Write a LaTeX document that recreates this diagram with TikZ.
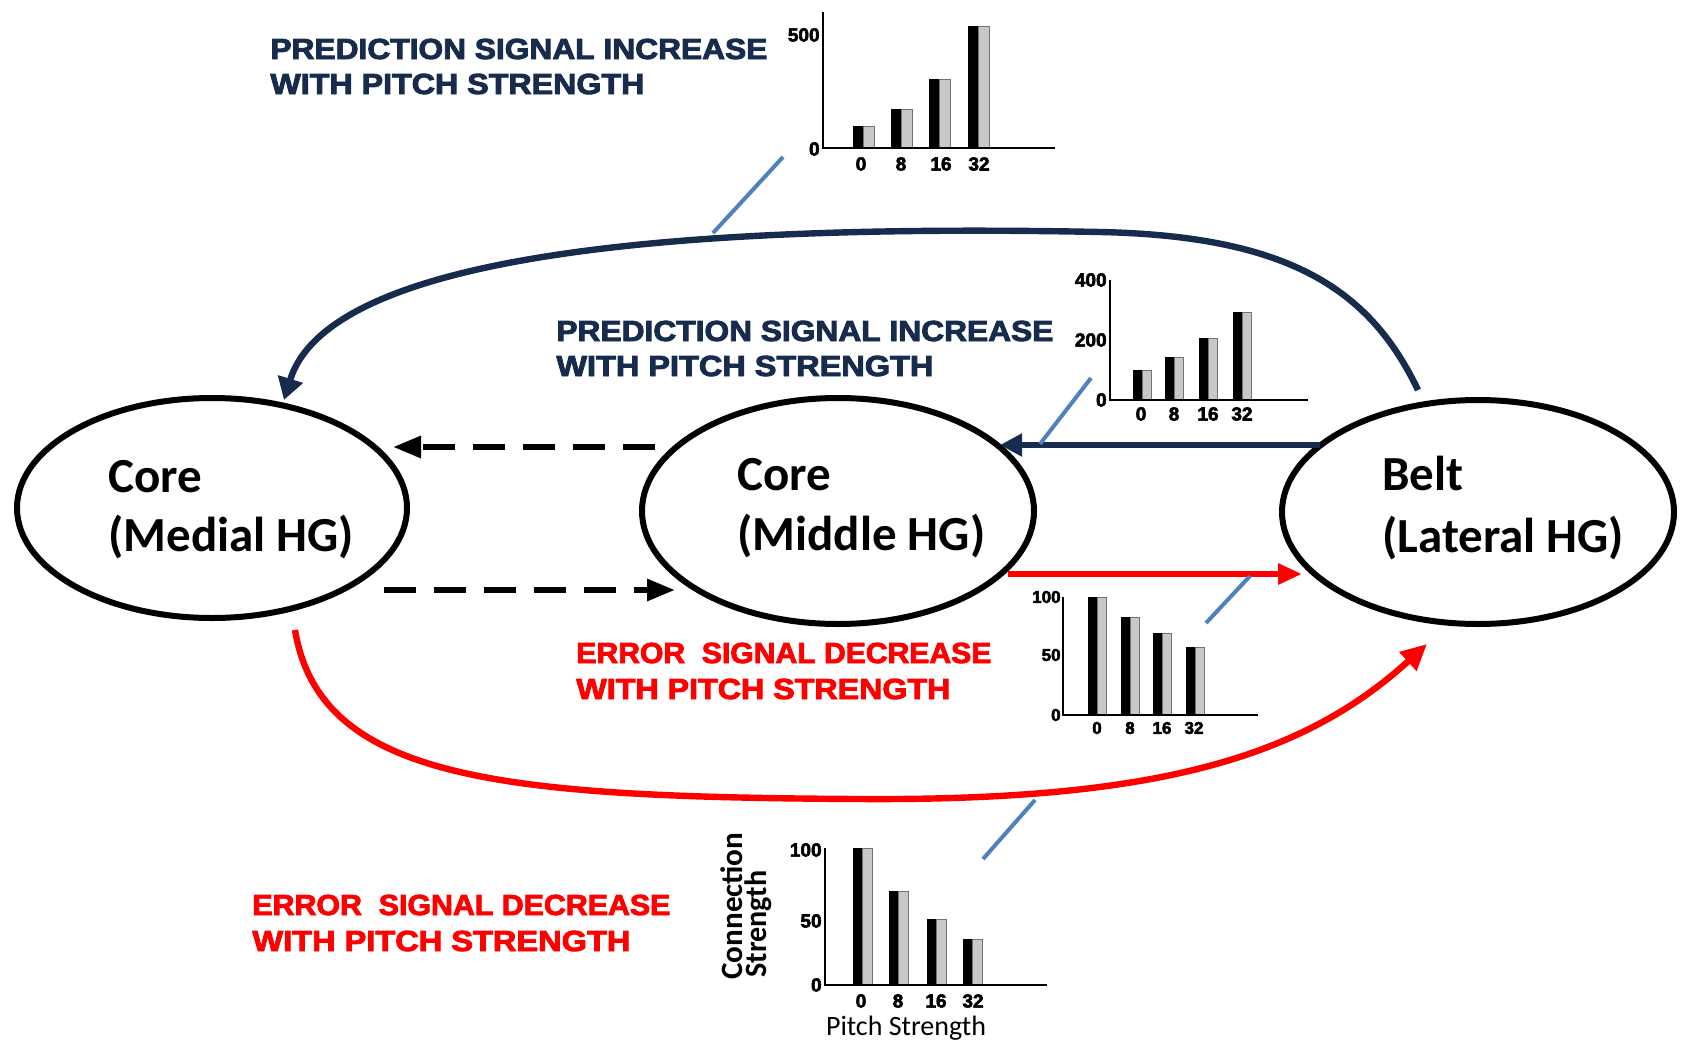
\documentclass[tikz,border=0pt]{standalone}
\usepackage{fontspec}
\setmainfont{Carlito}
\newfontfamily\arialfont{Liberation Sans}[BoldFeatures={FakeBold=3}]
\usetikzlibrary{arrows.meta,shapes.geometric}
\definecolor{navyc}{HTML}{172B4D}
\definecolor{pblue}{HTML}{4F81BD}
\definecolor{sigred}{HTML}{FF0000}
\definecolor{bargray}{HTML}{C8C8C8}
\newcommand\barpair[4]{%
  \fill[black] (#1,#3) rectangle ({#1+#4},#2);
  \filldraw[fill=bargray,draw=black!55,line width=0.5pt] ({#1+#4},#3) rectangle ({#1+2*#4},#2);}
\begin{document}
\begin{tikzpicture}[x=0.5pt,y=-0.5pt,
  ell/.style={ellipse,draw=black,line width=3pt,inner sep=0pt,outer sep=0pt,fill=white},
  etext/.style={anchor=base west,inner sep=0pt,font=\bfseries\fontsize{24.5}{29}\selectfont},
  lab/.style={anchor=base west,inner sep=0pt,font=\arialfont\bfseries\fontsize{14.5}{17}\selectfont},
  navylab/.style={lab,text=navyc},
  redlab/.style={lab,text=sigred},
  tick/.style={inner sep=0pt,font=\arialfont\bfseries\fontsize{9.5}{11}\selectfont},
  ylab/.style={tick,anchor=east},
  axis/.style={line width=1.4pt,draw=black},
  pointer/.style={line width=2pt,draw=pblue},
  navyarc/.style={draw=navyc,line width=3.2pt,-{Triangle[length=11pt,width=12.5pt]}},
  navyline/.style={draw=navyc,line width=2.6pt,-{Triangle[length=11pt,width=11pt]}},
  redarc/.style={draw=sigred,line width=3.2pt,-{Triangle[length=13pt,width=12pt]}},
  redline/.style={draw=sigred,line width=3.2pt,-{Triangle[length=12pt,width=10pt]}},
  dasharrow/.style={draw=black,line width=3pt,dash pattern=on 16pt off 9pt,-{Triangle[length=14pt,width=10.5pt]}}
]
\useasboundingbox (0,0) rectangle (1682,1044);
\fill[white] (0,0) rectangle (1682,1044);

% ---------- ellipses ----------
\node[ell,minimum width=195pt,minimum height=110pt] (medial) at (212,508) {};
\node[ell,minimum width=196pt,minimum height=113pt] (middle) at (838,511) {};
\node[ell,minimum width=196pt,minimum height=112pt] (belt) at (1478,512) {};
\node[etext] (medial1) at (108,492) {Core};
\node[etext] (medial2) at (108,551) {(Medial HG)};
\node[etext] (middle1) at (737,490) {Core};
\node[etext] (middle2) at (737,550) {(Middle HG)};
\node[etext] (belt1) at (1382,490) {Belt};
\node[etext] (belt2) at (1382,552) {(Lateral HG)};

% ---------- connector end points ----------
\coordinate (arcTopS) at (1418,390);
\coordinate (arcTopE) at (284,400);
\coordinate (arcBotS) at (295,630);
\coordinate (arcBotE) at (1427,644);
\coordinate (navyS) at (1320,445);
\coordinate (navyE) at (1000,445);
\coordinate (redS) at (1008,574);
\coordinate (redE) at (1302,574);
\coordinate (dashUS) at (655,447);
\coordinate (dashUE) at (393,447);
\coordinate (dashLS) at (384,590);
\coordinate (dashLE) at (675,590);

% ---------- connectors ----------
\draw[navyarc] (arcTopS) .. controls (1370,290) and (1290,236) .. (1100,232)
  .. controls (700,224) and (330,250) .. (arcTopE);
\draw[redarc] (arcBotS) .. controls (320,780) and (500,797) .. (858,799)
  .. controls (1150,801) and (1300,760) .. (arcBotE);
\draw[navyline] (navyS) -- (navyE);
\draw[redline] (redS) -- (redE);
\draw[dasharrow] (dashUS) -- (dashUE);
\draw[dasharrow] (dashLS) -- (dashLE);

% ---------- pointers ----------
\coordinate (p1a) at (713,233); \coordinate (p1b) at (783,157);
\coordinate (p2a) at (1040,444); \coordinate (p2b) at (1091,378);
\coordinate (p3a) at (1206,623); \coordinate (p3b) at (1250,576);
\coordinate (p4a) at (983,859); \coordinate (p4b) at (1035,800);
\draw[pointer] (p1a) -- (p1b);
\draw[pointer] (p2a) -- (p2b);
\draw[pointer] (p3a) -- (p3b);
\draw[pointer] (p4a) -- (p4b);

% ---------- labels ----------
\node[navylab] (labA1) at (270,59) {\resizebox{248.5pt}{\height}{PREDICTION SIGNAL INCREASE}};
\node[navylab] (labA2) at (270,94) {\resizebox{187pt}{\height}{WITH PITCH STRENGTH}};
\node[navylab] (labB1) at (556,341) {\resizebox{248.5pt}{\height}{PREDICTION SIGNAL INCREASE}};
\node[navylab] (labB2) at (556,376) {\resizebox{188.5pt}{\height}{WITH PITCH STRENGTH}};
\node[redlab] (labC1) at (576,663) {\resizebox{207.5pt}{\height}{ERROR\ \ SIGNAL DECREASE}};
\node[redlab] (labC2) at (576,699) {\resizebox{187pt}{\height}{WITH PITCH STRENGTH}};
\node[redlab] (labD1) at (252,915) {\resizebox{209pt}{\height}{ERROR\ \ SIGNAL DECREASE}};
\node[redlab] (labD2) at (252,951) {\resizebox{189pt}{\height}{WITH PITCH STRENGTH}};

% ---------- chart 1 (top) ----------
\barpair{853}{126}{148}{10.5}
\barpair{891}{109}{148}{10.5}
\barpair{929}{79}{148}{10.5}
\barpair{968}{26}{148}{10.5}
\draw[axis] (823,12) -- (823,148) -- (1055,148);
\node[ylab] (c1y500) at (820,35) {500};
\node[ylab] (c1y0) at (820,149) {0};
\node[tick] (c1x0) at (861,164) {0};
\node[tick] (c1x8) at (901,164) {8};
\node[tick] (c1x16) at (941,164) {16};
\node[tick] (c1x32) at (979,164) {32};

% ---------- chart 2 ----------
\barpair{1133}{370}{400}{9}
\barpair{1165}{357}{400}{9}
\barpair{1199}{338}{400}{9}
\barpair{1233}{312}{400}{9}
\draw[axis] (1110,280) -- (1110,400) -- (1308,400);
\node[ylab] (c2y400) at (1107,280) {400};
\node[ylab] (c2y200) at (1107,340) {200};
\node[ylab] (c2y0) at (1107,400) {0};
\node[tick] (c2x0) at (1141,414) {0};
\node[tick] (c2x8) at (1174,414) {8};
\node[tick] (c2x16) at (1208,414) {16};
\node[tick] (c2x32) at (1242,414) {32};

% ---------- chart 3 ----------
\barpair{1088}{597}{715}{9}
\barpair{1121}{617}{715}{9}
\barpair{1153}{633}{715}{9}
\barpair{1186}{647}{715}{9}
\draw[axis] (1063,597) -- (1063,715) -- (1258,715);
\node[ylab,font=\arialfont\bfseries\fontsize{8.5}{10}\selectfont] (c3y100) at (1061,597) {100};
\node[ylab,font=\arialfont\bfseries\fontsize{8.5}{10}\selectfont] (c3y50) at (1061,655) {50};
\node[ylab,font=\arialfont\bfseries\fontsize{8.5}{10}\selectfont] (c3y0) at (1061,715) {0};
\node[tick,font=\arialfont\bfseries\fontsize{8.5}{10}\selectfont] (c3x0) at (1097,728) {0};
\node[tick,font=\arialfont\bfseries\fontsize{8.5}{10}\selectfont] (c3x8) at (1130,728) {8};
\node[tick,font=\arialfont\bfseries\fontsize{8.5}{10}\selectfont] (c3x16) at (1162,728) {16};
\node[tick,font=\arialfont\bfseries\fontsize{8.5}{10}\selectfont] (c3x32) at (1194,728) {32};

% ---------- chart 4 (bottom) ----------
\barpair{853}{848}{985}{9.5}
\barpair{889}{891}{985}{9.5}
\barpair{927}{919}{985}{9.5}
\barpair{963}{939}{985}{9.5}
\draw[axis] (825,848) -- (825,985) -- (1047,985);
\node[ylab] (c4y100) at (822,850) {100};
\node[ylab] (c4y50) at (822,921) {50};
\node[ylab] (c4y0) at (822,985) {0};
\node[tick] (c4x0) at (861,1001) {0};
\node[tick] (c4x8) at (898,1001) {8};
\node[tick] (c4x16) at (936,1001) {16};
\node[tick] (c4x32) at (973,1001) {32};
\node[inner sep=0pt,font=\fontsize{14}{16}\selectfont] (c4xt) at (906,1028) {Pitch Strength};
\node[anchor=base west,inner sep=0pt,rotate=90,font=\bfseries\fontsize{15.5}{17}\selectfont] (c4yt1) at (742,980) {\resizebox{73.5pt}{\height}{Connection}};
\node[anchor=base west,inner sep=0pt,rotate=90,font=\bfseries\fontsize{15.5}{17}\selectfont] (c4yt2) at (766,978) {\resizebox{53.5pt}{\height}{Strength}};
\end{tikzpicture}
\end{document}
